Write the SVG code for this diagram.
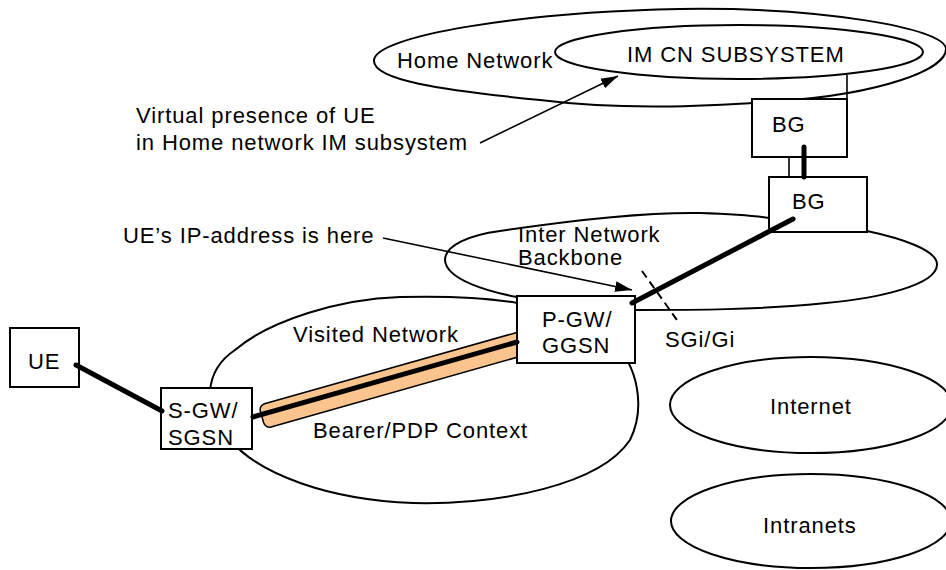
<svg xmlns="http://www.w3.org/2000/svg" width="946" height="570" viewBox="0 0 946 570">
<style>
text{font-family:"Liberation Sans",Arial,sans-serif;font-size:22px;letter-spacing:0.9px;fill:#000}
.cloud{fill:none;stroke:#000;stroke-width:2}
.box{fill:#fff;stroke:#000;stroke-width:2}
.thick{stroke:#000;stroke-width:5;stroke-linecap:round;fill:none}
.thin{stroke:#000;stroke-width:1.6;fill:none}
.arrow{stroke:#000;stroke-width:1.6;fill:none;marker-end:url(#ah)}
</style>
<defs>
<marker id="ah" viewBox="0 0 16 10" refX="16" refY="5" markerWidth="17" markerHeight="11" markerUnits="userSpaceOnUse" orient="auto">
<path d="M0,0 L16,5 L0,10 Z" fill="#000"/>
</marker>
</defs>
<rect width="946" height="570" fill="#fff"/>

<g id="home-network">
<path class="cloud" d="M374,60 C376,36 520,12 680,9 C820,7 946,28 946,49 C946,70 880,94 780,101 C700,107 620,110 540,100 C440,90 372,80 374,60 Z"/>
<text x="397" y="68">Home Network</text>
</g>
<g id="im-cn-subsystem">
<ellipse class="cloud" cx="739" cy="52" rx="184" ry="27"/>
<text x="627" y="62">IM CN SUBSYSTEM</text>
</g>
<g id="backbone">
<path class="cloud" d="M445,260 C445,245 470,235 500,231 C560,222 640,212 700,213 C730,214 750,215 769,218 L867,231 C900,238 938,250 937,265 C936,285 880,298 826,303 C760,310 690,310 635,310 L517,297 C490,292 446,280 445,260 Z"/>
<text x="518" y="242">Inter Network</text>
<text x="518" y="265">Backbone</text>
</g>
<g id="visited-network">
<path class="cloud" d="M400,297 C480,295 560,300 610,340 C640,365 645,410 630,440 C600,485 500,505 413,503 C330,500 260,475 230,440 C200,410 205,370 235,350 C270,320 340,299 400,297 Z"/>
<text x="293" y="342">Visited Network</text>
</g>
<g id="internet">
<ellipse class="cloud" cx="811" cy="405" rx="141" ry="48"/>
<text x="770" y="414">Internet</text>
</g>
<g id="intranets">
<ellipse class="cloud" cx="811" cy="521" rx="140" ry="47"/>
<text x="763" y="533">Intranets</text>
</g>

<g id="bearer">
<rect x="0" y="-12" width="275" height="24" rx="6" fill="#FAC48F" stroke="#000" stroke-width="1.5" transform="translate(262,417) rotate(-15.8)"/>
<text x="313" y="438">Bearer/PDP Context</text>
</g>

<g id="bg-home">
<rect class="box" x="752" y="99" width="95" height="58"/>
<text x="772" y="132">BG</text>
</g>
<g id="bg-visited">
<rect class="box" x="769" y="177" width="98" height="55"/>
<text x="792" y="209">BG</text>
</g>
<g id="pgw">
<rect class="box" x="517" y="296" width="118" height="67"/>
<text x="542" y="327">P-GW/</text>
<text x="542" y="353">GGSN</text>
</g>
<g id="ue">
<rect class="box" x="10" y="328" width="69" height="59"/>
<text x="28" y="369">UE</text>
</g>
<g id="sgw">
<rect class="box" x="161" y="388" width="91" height="61"/>
<text x="168" y="418">S-GW/</text>
<text x="168" y="445">SGSN</text>
</g>

<g id="annotations">
<text x="136" y="123">Virtual presence of UE</text>
<text x="136" y="150">in Home network IM subsystem</text>
<text x="123" y="243">UE’s IP-address is here</text>
<text x="665" y="347">SGi/Gi</text>
</g>

<g id="connectors">
<line class="thick" x1="76" y1="365" x2="162" y2="411"/>
<line class="thick" x1="253" y1="417" x2="517" y2="342"/>
<line class="thick" x1="632" y1="303" x2="793" y2="219"/>
<line class="thick" x1="804" y1="147" x2="804" y2="177"/>
<line class="thin" x1="789" y1="157" x2="789" y2="177"/>
<line class="thin" x1="847" y1="75" x2="847" y2="99"/>
<line x1="642" y1="271" x2="677" y2="320" stroke="#000" stroke-width="2" stroke-dasharray="8,5"/>
<line class="arrow" x1="480" y1="143" x2="618" y2="76"/>
<line class="arrow" x1="383" y1="238" x2="632" y2="290"/>
</g>
</svg>
